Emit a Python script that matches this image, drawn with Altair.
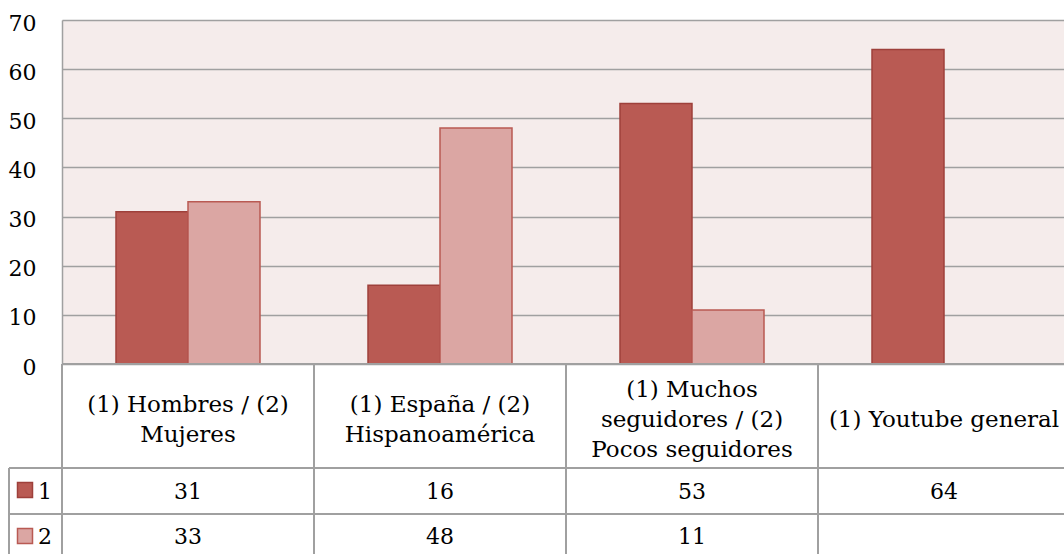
import altair as alt
import pandas as pd

categories = [
    "(1) Hombres / (2)\nMujeres",
    "(1) España / (2)\nHispanoamérica",
    "(1) Muchos\nseguidores / (2)\nPocos seguidores",
    "(1) Youtube general",
]
series_names = ["1", "2"]
series1 = [31, 16, 53, 64]
series2 = [33, 48, 11, None]
y_ticks = [0, 10, 20, 30, 40, 50, 60, 70]

rows = []
for c, a, b in zip(categories, series1, series2):
    rows.append({"cat": c, "series": "1", "value": a})
    rows.append({"cat": c, "series": "2", "value": b})
df = pd.DataFrame(rows)
cat_df = pd.DataFrame({"cat": categories})
legend_df = pd.DataFrame({"series": series_names})

W, H = 1002, 344
FONT = "DejaVu Serif"
FS = 22
FS_HEAD = 23
LH = 30
FILL = ["#B95A53", "#DBA6A3"]
STROKE = ["#9E403B", "#B95A53"]
GRID = "#A0A0A0"

xscale = alt.Scale(domain=categories, range=[0, 1008], paddingInner=0, paddingOuter=0)

bars = alt.Chart(df).transform_filter("isValid(datum.value)").mark_bar(strokeWidth=1.5).encode(
    x=alt.X("cat:N", scale=xscale, axis=None),
    xOffset=alt.XOffset("series:N", scale=alt.Scale(domain=series_names, paddingOuter=0.75, paddingInner=0)),
    y=alt.Y(
        "value:Q",
        scale=alt.Scale(domain=[0, 70]),
        axis=alt.Axis(
            values=y_ticks, title=None, grid=True, gridColor=GRID, gridWidth=1.5,
            domain=True, domainColor=GRID, domainWidth=1.5, ticks=False,
            labelFont=FONT, labelFontSize=FS, labelColor="#000000", labelPadding=26,
            labelOffset=3,
        ),
    ),
    color=alt.Color("series:N", scale=alt.Scale(domain=series_names, range=FILL), legend=None),
    stroke=alt.Stroke("series:N", scale=alt.Scale(domain=series_names, range=STROKE), legend=None),
)

# table grid
vlines = alt.Chart(cat_df).mark_rule(color=GRID, strokeWidth=2).encode(
    x=alt.X("cat:N", scale=xscale, bandPosition=0, axis=None),
    y=alt.value(H),
    y2=alt.value(H + 190),
)
left_line = alt.Chart(cat_df).mark_rule(color=GRID, strokeWidth=2).encode(
    x=alt.value(-53), y=alt.value(448), y2=alt.value(H + 190)
)
hline_top = alt.Chart(cat_df).mark_rule(color=GRID, strokeWidth=2).encode(
    x=alt.value(0), x2=alt.value(1008), y=alt.value(H)
)
hline1 = alt.Chart(cat_df).mark_rule(color=GRID, strokeWidth=2).encode(
    x=alt.value(-53), x2=alt.value(1008), y=alt.value(448)
)
hline2 = alt.Chart(cat_df).mark_rule(color=GRID, strokeWidth=2).encode(
    x=alt.value(-53), x2=alt.value(1008), y=alt.value(494)
)


def header_layer(n_lines):
    return alt.Chart(cat_df).transform_calculate(
        n="length(split(datum.cat, '\\n'))"
    ).transform_filter(f"datum.n == {n_lines}").mark_text(
        font=FONT, fontSize=FS_HEAD, lineBreak="\n", lineHeight=LH, baseline="middle",
        align="center", color="#000000", dy=-(n_lines - 1) * LH / 2,
    ).encode(
        x=alt.X("cat:N", scale=xscale, bandPosition=0.5, axis=None),
        y=alt.value(400),
        text="cat:N",
    )


row1 = alt.Chart(df).transform_filter("datum.series == '1' && isValid(datum.value)").mark_text(
    font=FONT, fontSize=FS, baseline="middle", align="center", color="#000000"
).encode(
    x=alt.X("cat:N", scale=xscale, bandPosition=0.5, axis=None),
    y=alt.value(472),
    text="value:Q",
)
row2 = alt.Chart(df).transform_filter("datum.series == '2' && isValid(datum.value)").mark_text(
    font=FONT, fontSize=FS, baseline="middle", align="center", color="#000000"
).encode(
    x=alt.X("cat:N", scale=xscale, bandPosition=0.5, axis=None),
    y=alt.value(517),
    text="value:Q",
)

sw1 = alt.Chart(legend_df).transform_filter("datum.series == '1'").mark_square(
    size=225, fill=FILL[0], stroke=STROKE[0], strokeWidth=1.5, opacity=1
).encode(x=alt.value(-37), y=alt.value(470))
sw2 = alt.Chart(legend_df).transform_filter("datum.series == '2'").mark_square(
    size=225, fill=FILL[1], stroke=STROKE[1], strokeWidth=1.5, opacity=1
).encode(x=alt.value(-37), y=alt.value(516))
lt1 = alt.Chart(legend_df).transform_filter("datum.series == '1'").mark_text(
    font=FONT, fontSize=FS, baseline="middle", align="left", color="#000000"
).encode(x=alt.value(-24), y=alt.value(472), text="series:N")
lt2 = alt.Chart(legend_df).transform_filter("datum.series == '2'").mark_text(
    font=FONT, fontSize=FS, baseline="middle", align="left", color="#000000"
).encode(x=alt.value(-24), y=alt.value(517), text="series:N")

chart = alt.layer(
    bars, vlines, left_line, hline_top, hline1, hline2,
    header_layer(1), header_layer(2), header_layer(3),
    row1, row2, sw1, sw2, lt1, lt2
).properties(
    width=W,
    height=H,
    padding={"left": 62, "top": 20, "right": 0, "bottom": 190},
    autosize=alt.AutoSizeParams(type="none"),
    background="#FFFFFF",
).configure_view(
    fill="#F5ECEB", stroke=None
)

chart.save("out.html", embed_options={"renderer": "svg", "actions": False})
